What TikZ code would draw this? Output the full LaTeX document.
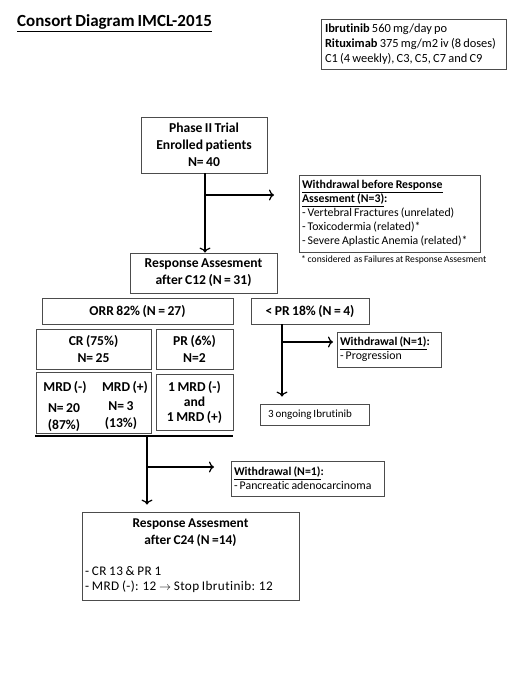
\documentclass[tikz,border=0pt]{standalone}
\usepackage{fontspec}
\setmainfont[Ligatures=NoCommon, WordSpace=0.8]{Carlito}
\usetikzlibrary{positioning,arrows.meta}

\tikzset{
  box/.style={draw=black!70, line width=0.8pt, inner sep=0pt, align=center,
    font=\bfseries\fontsize{13.6}{17}\selectfont},
  note/.style={draw=black!70, line width=0.8pt, inner xsep=3pt, inner ysep=0pt, align=flush left,
    font=\fontsize{11.8}{14}\selectfont},
  flow/.style={-{To[length=5pt,width=11pt]}, line width=1.2pt},
  plain/.style={inner sep=0pt, align=center, font=\bfseries\fontsize{13.6}{17}\selectfont},
}

\begin{document}
\begin{tikzpicture}[x=1pt, y=-1pt]
\useasboundingbox (0,0) rectangle (520,693);
% title and dosage
\node[anchor=base west, inner sep=0pt, font=\bfseries\fontsize{17}{20}\selectfont] (title) at (17,27) {\underline{Consort Diagram IMCL-2015}};
\node[note, minimum width=185, minimum height=50, text width=177, inner xsep=4pt, font=\fontsize{12.4}{15}\selectfont] (dose) at (413.5,44)
  {\textbf{Ibrutinib} 560 mg/day po\\ \textbf{Rituximab} 375 mg/m2 iv (8 doses)\\ C1 (4 weekly), C3, C5, C7 and C9};
% main boxes
\node[box, minimum width=126, minimum height=56] (phase) at (204,145) {Phase II Trial\\ Enrolled patients\\ N= 40};
\node[box, minimum width=147, minimum height=40] (resp) at (203.5,273) {Response Assesment\\ after C12 (N = 31)};
\node[box, minimum width=191, minimum height=26] (orr) at (137.5,311) {ORR 82\% (N = 27)};
\node[box, minimum width=118, minimum height=26] (lowpr) at (310,311) {< PR 18\% (N = 4)};
\node[box, minimum width=115, minimum height=40] (cr) at (93.5,349) {CR (75\%)\\ N= 25};
\node[box, minimum width=77, minimum height=40] (pr) at (194.5,349) {PR (6\%)\\ N=2};
\node[box, minimum width=115, minimum height=61] (crmrd) at (93.5,402.5) {};
\node[box, minimum width=77, minimum height=56, font=\bfseries\fontsize{13.6}{15}\selectfont] (prmrd) at (194.5,402) {1 MRD (-)\\ and\\ 1 MRD (+)};
% mrd figures
\node[plain] (mrdneg) at (65,387) {MRD (-)};
\node[plain] (mrdpos) at (125,387) {MRD (+)};
\node[plain] (nneg) at (64,417.5) {N= 20\\ (87\%)};
\node[plain] (npos) at (121,415.5) {N= 3\\ (13\%)};
% withdrawals
\node[note, minimum width=181, minimum height=77, text width=175] (wd1) at (389.5,213.5)
  {\textbf{\underline{Withdrawal before Response}}\\ \textbf{\underline{Assesment (N=3)}:}\\ - Vertebral Fractures (unrelated)\\ - Toxicodermia (related)*\\ - Severe Aplastic Anemia (related)*};
\node[anchor=west, inner sep=0pt, font=\fontsize{9.6}{11}\selectfont] (foot) at (301,260) {* considered\, as Failures at Response Assesment};
\node[note, minimum width=104, minimum height=35, text width=98] (wd2) at (389,349.5)
  {\textbf{\underline{Withdrawal (N=1)}:}\\ - Progression};
\node[note, minimum width=109, minimum height=21, text width=93, inner xsep=8pt, font=\fontsize{11}{13}\selectfont] (ongo) at (314.5,414.5) {3 ongoing Ibrutinib};
\node[note, minimum width=153, minimum height=35, text width=147] (wd3) at (307.5,478.5)
  {\textbf{\underline{Withdrawal (N=1)}:}\\ - Pancreatic adenocarcinoma};
% final assessment
\node[draw=black!70, line width=0.8pt, minimum width=217, minimum height=88] (final) at (190.5,556) {};
\node[plain, align=flush center, font=\bfseries\fontsize{13.4}{17}\selectfont] (finhead) at (190.5,532.5) {Response Assesment\\ after C24 (N =14)};
\node[anchor=west, inner sep=0pt, align=flush left, font=\fontsize{13.2}{15}\selectfont\addfontfeatures{LetterSpace=3}] (finlist) at (85,579.5)
  {- CR 13 \& PR 1\\ - MRD (-): 12 $\rightarrow$ Stop Ibrutinib: 12};
% arrows
\coordinate (b1) at (205,195);
\coordinate (e1) at (274,195);
\draw[flow] (phase.south -| b1) -- (resp.north -| b1);
\draw[flow] (b1) -- (e1);
\coordinate (b2) at (282,342);
\coordinate (e2) at (333,342);
\draw[flow] (lowpr.south -| b2) -- ([yshift=7pt]ongo.north -| b2);
\draw[flow] (b2) -- (e2);
\coordinate (bl) at (35,436);
\coordinate (br) at (233,436);
\draw[line width=2pt] (bl) -- (br);
\coordinate (b3) at (147,467);
\coordinate (e3) at (214,467);
\draw[flow] (bl -| b3) -- ([yshift=7pt]final.north -| b3);
\draw[flow] (b3) -- (e3);
\end{tikzpicture}
\end{document}
